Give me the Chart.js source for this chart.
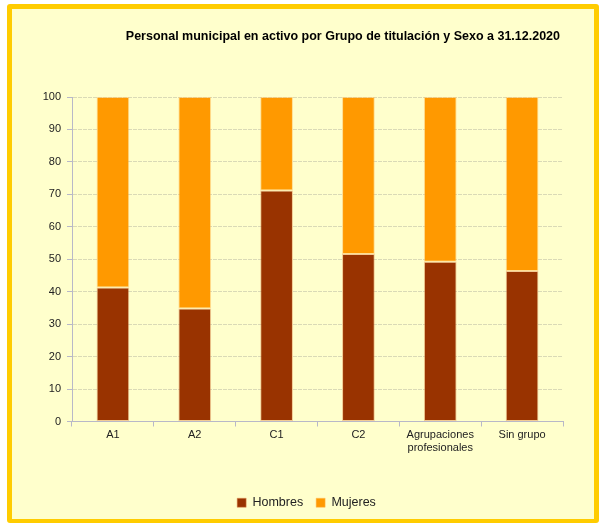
<!DOCTYPE html>
<html><head><meta charset="utf-8">
<script src="https://cdn.jsdelivr.net/npm/chart.js@4"></script>
<style>
html,body{margin:0;padding:0;background:#fff;}
#frame{position:absolute;left:7px;top:4px;width:582px;height:510px;border-style:solid;border-color:#FFCC00;border-width:5px 5px 4px 5px;border-radius:3px;background:#FFFFCC;}
#c{display:block;}
</style></head>
<body>
<div id="frame"><canvas id="c" width="582" height="510"></canvas></div>
<script>
const categories = ["A1", "A2", "C1", "C2", ["Agrupaciones","profesionales"], "Sin grupo"];
const hombres = [41.3, 34.8, 71.2, 51.6, 49.2, 46.4];
const mujeres = [58.7, 65.2, 28.8, 48.4, 50.8, 53.6];
const yTicks = [0,10,20,30,40,50,60,70,80,90,100];
const titleText = "Personal municipal en activo por Grupo de titulación y Sexo a 31.12.2020";

const FONT = '"Liberation Sans", Arial, sans-serif';

const titlePlugin = {
  id: 'customTitle',
  afterLayout(chart) {
    const l = chart.legend;
    if (l) { l.left += 14; l.right += 14; }
  },
  afterDraw(chart) {
    const ctx = chart.ctx;
    ctx.save();
    ctx.font = 'bold 12.5px ' + FONT;
    ctx.fillStyle = '#000';
    ctx.textAlign = 'right';
    ctx.textBaseline = 'middle';
    ctx.fillText(titleText, 548, 28);
    ctx.restore();
  }
};

new Chart(document.getElementById('c'), {
  type: 'bar',
  data: {
    labels: categories,
    datasets: [
      {label: 'Hombres', data: hombres, backgroundColor: '#993300', borderColor: 'rgba(230,150,90,0.5)', borderWidth: 1, borderSkipped: false, categoryPercentage: 1, barPercentage: 0.4},
      {label: 'Mujeres', data: mujeres, backgroundColor: '#FF9900', borderColor: 'rgba(255,190,90,0.5)', borderWidth: 1, borderSkipped: false, categoryPercentage: 1, barPercentage: 0.4}
    ]
  },
  options: {
    responsive: false,
    animation: false,
    devicePixelRatio: 1,
    layout: {padding: {left: 10, right: 31, top: 88, bottom: 0}},
    plugins: {
      title: {display: false},
      tooltip: {enabled: false},
      legend: {
        position: 'bottom',
        labels: {
          boxWidth: 9, boxHeight: 9, padding: 13,
          color: '#222',
          font: {family: FONT, size: 12.5}
        }
      }
    },
    scales: {
      x: {
        stacked: true,
        afterFit(axis) { axis.height = 62; },
        grid: {display: true, drawOnChartArea: false, drawTicks: true, tickLength: 5, color: '#b8b8c8', offset: true},
        border: {color: '#b8b8c8'},
        ticks: {color: '#222', font: {family: FONT, size: 11}, padding: 2, maxRotation: 0, autoSkip: false}
      },
      y: {
        stacked: true,
        min: 0, max: 100,
        afterBuildTicks(axis) { axis.ticks = yTicks.map(v => ({value: v})); },
        afterFit(axis) { axis.width = 50; },
        grid: {color: 'rgba(150,150,140,0.35)', tickLength: 5, tickColor: '#b8b8c8', lineWidth: 1},
        border: {color: '#b8b8c8', dash: [4, 1]},
        ticks: {color: '#222', font: {family: FONT, size: 11}, padding: 6}
      }
    }
  },
  plugins: [titlePlugin]
});
</script>
</body></html>
